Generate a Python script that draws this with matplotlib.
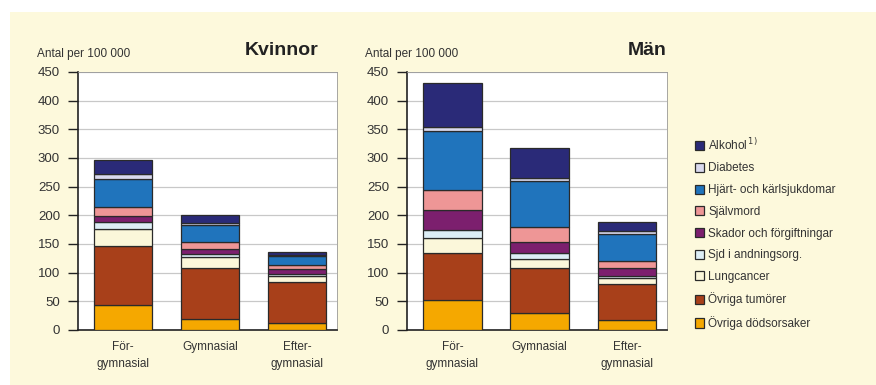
import numpy as np
import matplotlib
matplotlib.use("Agg")
import matplotlib.pyplot as plt

plt.rcParams['font.family'] = ['Liberation Sans', 'DejaVu Sans']

# Education levels (x categories)
levels = ["För-\ngymnasial", "Gymnasial", "Efter-\ngymnasial"]

# Causes of death, bottom to top of each stack
causes = ["Övriga dödsorsaker", "Övriga tumörer", "Lungcancer", "Sjd i andningsorg.",
          "Skador och förgiftningar", "Självmord", "Hjärt- och kärlsjukdomar",
          "Diabetes", "Alkohol$^{\\,1)}$"]
colors = ["#F5A800", "#A8401A", "#FBF7DA", "#DDEEF6", "#7C1F6E",
          "#EE9696", "#2074BC", "#D9D9EE", "#2A2A78"]

# Deaths per 100 000, one list per cause: [Förgymnasial, Gymnasial, Eftergymnasial]
kvinnor = {
    "Övriga dödsorsaker": [43, 20, 12],
    "Övriga tumörer": [103, 88, 72],
    "Lungcancer": [30, 20, 10],
    "Sjd i andningsorg.": [12, 4, 4],
    "Skador och förgiftningar": [11, 10, 9],
    "Självmord": [16, 11, 6],
    "Hjärt- och kärlsjukdomar": [49, 30, 16],
    "Diabetes": [8, 3, 2],
    "Alkohol$^{\\,1)}$": [24, 14, 5],
}
man = {
    "Övriga dödsorsaker": [52, 30, 17],
    "Övriga tumörer": [83, 78, 63],
    "Lungcancer": [26, 16, 10],
    "Sjd i andningsorg.": [13, 10, 4],
    "Skador och förgiftningar": [36, 20, 15],
    "Självmord": [34, 26, 12],
    "Hjärt- och kärlsjukdomar": [103, 80, 47],
    "Diabetes": [7, 5, 4],
    "Alkohol$^{\\,1)}$": [77, 52, 16],
}

cream = "#FDF9DC"
text_col = "#333333"

fig = plt.figure(figsize=(8.76, 3.85), dpi=100)
fig.patch.set_facecolor("white")
# cream panel behind everything
fig.patches.append(plt.Rectangle((10 / 876, 0), 1, 1 - 12 / 385, transform=fig.transFigure,
                                 facecolor=cream, edgecolor="none", zorder=-10))


def draw_panel(ax, data, title, title_x, title_ha):
    x = np.arange(len(levels))
    bottom = np.zeros(len(levels))
    handles = []
    for cause, col in zip(causes, colors):
        vals = np.array(data[cause], dtype=float)
        b = ax.bar(x, vals, width=0.67, bottom=bottom, color=col,
                   edgecolor="#2a2a2a", linewidth=0.9, zorder=3, label=cause)
        handles.append(b)
        bottom += vals
    ax.set_xlim(-0.52, 2.46)
    ax.set_ylim(0, 450)
    ax.set_yticks(range(0, 451, 50))
    ax.set_xticks(x)
    ax.set_xticklabels(levels, fontsize=8.5, color=text_col, linespacing=1.55)
    ax.tick_params(axis="x", length=0, pad=8)
    ax.tick_params(axis="y", direction="out", length=7, width=1, pad=6,
                   labelsize=9.5, labelcolor=text_col, color="#222222")
    ax.grid(axis="y", color="#C8C8C8", linewidth=0.9, zorder=0)
    ax.set_facecolor("white")
    for side in ["top", "right"]:
        ax.spines[side].set_color("#999999")
        ax.spines[side].set_linewidth(0.6)
    for side in ["left", "bottom"]:
        ax.spines[side].set_color("#222222")
        ax.spines[side].set_linewidth(1.2)
    ax.text(-0.16, 1.045, "Antal per 100 000", transform=ax.transAxes,
            fontsize=8.5, color=text_col, ha="left", va="bottom")
    ax.text(title_x, 1.05, title, transform=ax.transAxes, fontsize=14,
            fontweight="bold", color="#222222", ha=title_ha, va="bottom")
    return handles


ax1 = fig.add_axes([78 / 876, 1 - 330 / 385, 259 / 876, 258 / 385])
ax2 = fig.add_axes([407 / 876, 1 - 330 / 385, 260 / 876, 258 / 385])

handles = draw_panel(ax1, kvinnor, "Kvinnor", 0.93, "right")
draw_panel(ax2, man, "Män", 1.0, "right")

leg = fig.legend(handles[::-1], causes[::-1], loc="upper left",
                 bbox_to_anchor=(689 / 876, 1 - 131 / 385), frameon=False,
                 fontsize=8.5, handlelength=0.8, handleheight=0.8,
                 handletextpad=0.35, labelspacing=0.82, borderpad=0)
for t in leg.get_texts():
    t.set_color(text_col)

fig.savefig("out.png", dpi=100, facecolor=fig.get_facecolor())
